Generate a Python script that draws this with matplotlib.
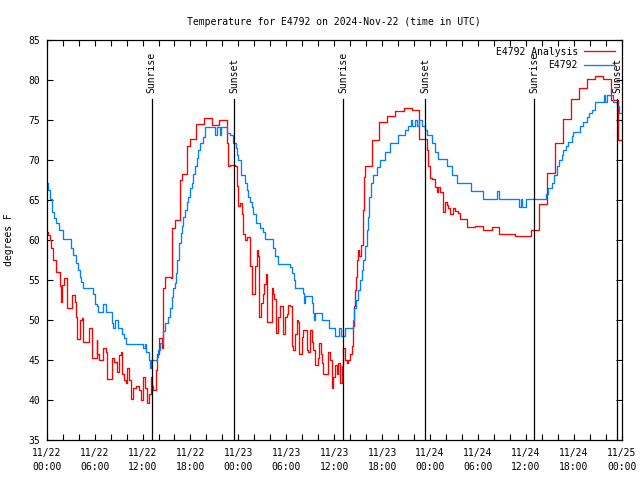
import matplotlib
matplotlib.use("Agg")
import matplotlib.pyplot as plt

plt.rcParams['font.family'] = ['DejaVu Sans Mono']
plt.rcParams['font.size'] = 7

# hours since 2024-11-22 00:00 UTC, step start points
hours_obs = [0, 0.16, 0.41, 0.70, 0.91, 1.13, 1.54, 2.08, 3.0, 3.33, 3.63, 3.96, 4.17, 4.34, 4.59,
             5.84, 6.0, 6.34, 6.46, 7.09, 7.42, 8.22, 8.34, 8.55, 8.89, 9.47, 9.68, 9.89, 12.10,
             12.27, 12.40, 12.81, 12.93, 13.10, 13.77, 13.98, 14.19, 14.60, 14.81, 15.23, 15.44,
             15.65, 15.85, 16.07, 16.19, 16.35, 16.60, 16.78, 16.90, 17.10, 17.32, 17.53, 17.73,
             17.94, 18.16, 18.36, 18.57, 18.78, 18.98, 19.20, 19.61, 19.82, 21.07, 21.29, 21.70,
             21.86, 22.54, 22.95, 23.37, 23.70, 23.87, 24.0, 24.33, 24.83, 25.04, 25.24, 25.46,
             25.67, 25.87, 26.17, 26.71, 27.05, 27.34, 28.38, 28.59, 29.00, 30.47, 30.68, 30.97,
             31.09, 32.06, 32.26, 32.34, 33.18, 33.38, 33.47, 33.60, 34.43, 35.39, 36.10, 36.64,
             36.81, 37.35, 38.31, 38.48, 38.73, 39.02, 39.23, 39.44, 39.65, 39.86, 40.07, 40.19,
             40.40, 40.61, 40.90, 41.32, 41.74, 42.36, 42.99, 44.03, 44.87, 45.28, 45.58, 45.74,
             46.12, 46.33, 46.66, 46.96, 47.37, 47.58, 48.21, 48.62, 49.04, 50.09, 50.71, 51.34,
             53.09, 54.60, 56.35, 56.64, 59.18, 59.35, 59.52, 60.02, 62.52, 62.81, 63.24, 63.52,
             63.86, 64.19, 64.49, 64.69, 65.03, 65.31, 65.74, 65.94, 66.78, 67.19, 67.62, 67.94,
             68.24, 68.66, 69.79, 69.95, 70.20, 70.87, 71.45, 71.70, 72.0]
temp_obs = [67.1, 66.25, 65.1, 63.5, 62.75, 62.1, 61.2, 60.1, 59, 58.1, 57.1, 56.25, 55.4, 54.8, 54,
            53.3, 52, 51.7, 51, 52, 51, 49.6, 49, 50, 49, 48.3, 47.7, 47, 46.5,
            47, 46, 45, 44, 45, 45.4, 46.25, 47.1, 48.6, 49.6, 50.4, 51.5,
            52.9, 54, 54.6, 55.9, 57.5, 59.6, 60.9, 61.7, 62.9, 63.75, 64.8, 65.4,
            66.5, 67.1, 68.3, 69.2, 70.2, 71.25, 72.1, 72.9, 74.1, 73.1, 74.1, 73.1,
            74.1, 73.4, 73.1, 72.1, 71.5, 70.6, 70.0, 68.1, 67.1, 66.25, 65.4, 64.8,
            64.1, 63.3, 62.1, 61.5, 61.0, 60.1, 59, 58, 57, 56.6, 55.9, 55,
            54.05, 53.4, 52.1, 53, 52.1, 50.9, 50.0, 50.9, 50, 49, 48, 49,
            48, 49, 50, 51.5, 52.5, 53.75, 55, 56.25, 57.5, 59.2, 61.25, 62.9,
            65.4, 67.1, 68.1, 69.1, 70, 71.0, 72.1, 73.1, 73.75, 74.2, 75, 74.2,
            75, 74.2, 75, 74.2, 73.75, 73.1, 72.1, 71.0, 70.1, 69.2, 68.1, 67.1,
            66.1, 65.1, 66.1, 65.1, 64.1, 65.1, 64.1, 65.1, 65.8, 66.5, 67.1, 68.1,
            69.2, 70, 70.6, 71.25, 71.75, 72.3, 73, 73.5, 74.2, 74.8, 75.4, 75.9,
            76.3, 77.2, 78.1, 77.2, 78.1, 77.2, 76.7, 75.9, 75.9]

hours_ana = [0, 0.16, 0.41, 0.58, 0.83, 1.13, 1.67, 1.75, 1.96, 2.17, 2.50, 3.21, 3.50, 3.63, 3.76,
             4.17, 4.46, 4.59, 5.30, 5.63, 5.71, 6.26, 6.34, 6.55, 7.09, 7.38, 7.59, 8.22, 8.43,
             8.84, 9.05, 9.27, 9.47, 9.68, 9.89, 10.10, 10.31, 10.60, 10.84, 11.14, 11.56, 11.77,
             12.06, 12.27, 12.60, 12.81, 13.02, 13.22, 13.35, 13.69, 13.85, 14.10, 14.40, 14.60,
             14.81, 15.53, 15.65, 16.07, 16.69, 16.90, 17.61, 17.94, 18.66, 19.70, 20.66, 21.61,
             22.61, 22.74, 22.95, 23.58, 23.79, 23.99, 24.20, 24.42, 24.62, 24.83, 25.04, 25.46,
             25.67, 26.08, 26.30, 26.50, 26.62, 26.80, 27.05, 27.21, 27.46, 27.63, 28.17, 28.38,
             28.50, 28.67, 29.00, 29.21, 29.63, 29.84, 30.05, 30.25, 30.47, 30.68, 30.88, 31.09,
             31.30, 31.51, 31.63, 31.93, 32.13, 32.56, 32.76, 32.97, 33.18, 33.38, 33.60, 34.01,
             34.14, 34.31, 34.43, 34.64, 35.06, 35.26, 35.48, 35.69, 35.89, 36.10, 36.31, 36.51,
             36.72, 36.94, 37.06, 37.35, 37.57, 37.77, 37.98, 38.19, 38.31, 38.48, 38.61, 38.73,
             38.82, 39.02, 39.15, 39.32, 39.57, 39.73, 39.86, 40.70, 41.65, 42.65, 43.61, 44.74,
             45.70, 46.66, 47.66, 47.78, 48.0, 48.21, 48.62, 48.83, 49.04, 49.25, 49.59, 49.66,
             49.87, 50.09, 50.29, 50.50, 50.91, 51.13, 51.54, 51.75, 52.67, 53.63, 54.67, 55.72,
             56.67, 58.68, 60.61, 61.68, 62.68, 63.65, 64.61, 65.65, 66.69, 67.69, 68.70, 69.62,
             70.62, 71.56, 72.0]
temp_ana = [61.0, 60.6, 60, 59, 57.5, 56.0, 54.25, 52.3, 54.4, 55.2, 51.5, 53.1, 52.3, 50.4, 47.6,
            50, 50.2, 47.3, 49, 48.5, 45.2, 47.5, 45.8, 45, 46.5, 46, 42.6, 45.2, 44.8,
            43.5, 45.6, 46.0, 43.3, 42.5, 42.1, 44, 42.5, 40.1, 41.5, 41.7, 41.3, 40,
            42.9, 41.5, 39.6, 40.8, 42.9, 41.7, 41.25, 43.75, 45.8, 47.7, 46.5, 54,
            55.4, 55.2, 61.5, 62.5, 67.5, 68.3, 71.7, 72.6, 74.5, 75.3, 74.4, 75,
            72.1, 69.2, 69.4, 69.2, 66.7, 64.2, 64.6, 63.3, 60.8, 60, 60.4, 56.7,
            53.3, 56.7, 58.75, 58.0, 50.4, 52.1, 53.3, 54.5, 55.8, 49.8, 54, 53.3,
            52.6, 48.4, 50.4, 51.7, 48.3, 50.4, 50.8, 51.9, 51.7, 46.7, 46.25, 48.3,
            50, 49.8, 45.8, 47.9, 48.75, 46.25, 46.0, 48.75, 47.3, 46.25, 44.4, 45.2,
            47.1, 45.8, 44.6, 43.3, 43.3, 46, 45, 41.5, 42.9, 44.4, 43.3, 44.6,
            42.1, 44.2, 46.5, 45, 44.6, 45, 45.8, 46.7, 49.2, 51.7, 53.75, 55.4,
            57.5, 58.75, 58.0, 59.4, 63.75, 67.9, 69.2, 72.5, 74.7, 75.5, 76.1, 76.5,
            76.25, 72.6, 71.25, 69.2, 67.7, 67.6, 66.6, 66.0, 66.6, 66.0, 64.8, 63.5,
            64.8, 64.4, 64, 63.3, 64.0, 63.6, 63.4, 62.6, 61.6, 61.75, 61.2, 61.6,
            60.75, 60.5, 61.25, 64.5, 68.4, 72.1, 75.1, 77.6, 79.0, 80.1, 80.5, 80.1,
            77.5, 72.5, 72.5]

sun_hours = [13.15, 23.45, 37.14, 47.41, 61.04, 71.45]
sun_labels = ["Sunrise", "Sunset", "Sunrise", "Sunset", "Sunrise", "Sunset"]

tick_hours = list(range(0, 73, 2))
tick_labels = {0: "11/22\n00:00", 6: "11/22\n06:00", 12: "11/22\n12:00", 18: "11/22\n18:00",
               24: "11/23\n00:00", 30: "11/23\n06:00", 36: "11/23\n12:00", 42: "11/23\n18:00",
               48: "11/24\n00:00", 54: "11/24\n06:00", 60: "11/24\n12:00", 66: "11/24\n18:00",
               72: "11/25\n00:00"}
y_ticks = [35, 40, 45, 50, 55, 60, 65, 70, 75, 80, 85]

fig = plt.figure(figsize=(6.4, 4.8), dpi=100)
ax = fig.add_axes([46.7/640, 1-440/480, (621.7-46.7)/640, 400/480])

ax.plot(hours_ana, temp_ana, drawstyle='steps-post', color='#ff0000', lw=0.95, label='E4792 Analysis')
ax.plot(hours_obs, temp_obs, drawstyle='steps-post', color='#0080ff', lw=0.95, label='E4792')

for h, lab in zip(sun_hours, sun_labels):
    ax.axvline(h, ymin=0, ymax=(440-99)/400, color='black', lw=0.9)
    ax.text(h, 78.4, lab, rotation=90, ha='center', va='bottom', fontsize=7)

ax.set_xlim(0, 72)
ax.set_ylim(35, 85)
ax.set_xticks(tick_hours)
ax.set_xticklabels([tick_labels.get(h, "") for h in tick_hours], fontsize=7, linespacing=1.5)
ax.set_yticks(y_ticks)
ax.set_yticklabels([str(v) for v in y_ticks], fontsize=7)
ax.tick_params(axis='both', direction='in', length=4, width=0.8, top=True, right=True)
ax.tick_params(axis='x', pad=6)
ax.tick_params(axis='y', pad=5)
for s in ax.spines.values():
    s.set_linewidth(0.9)

ax.set_ylabel("degrees F", fontsize=7, labelpad=10)
ax.set_title("Temperature for E4792 on 2024-Nov-22 (time in UTC)", fontsize=7, pad=11)

ax.legend(loc='upper right', frameon=False, markerfirst=False, fontsize=7,
          handlelength=3.2, handletextpad=0.6, borderaxespad=0.3, labelspacing=0.35)

fig.savefig("out.png", dpi=100)
